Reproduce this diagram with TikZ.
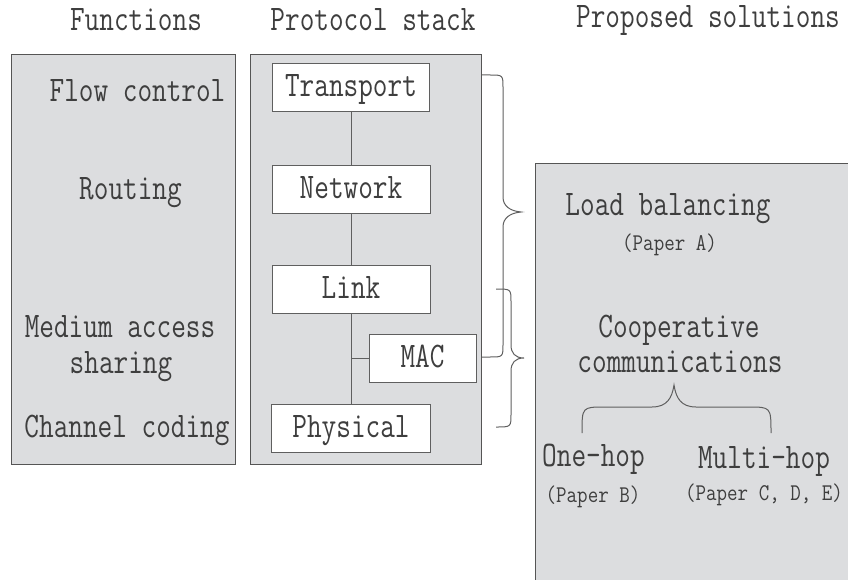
\documentclass[tikz,border=0pt]{standalone}
\usepackage{graphicx}
\definecolor{panelfill}{RGB}{220,221,223}
\definecolor{edgegray}{RGB}{85,85,85}
\definecolor{linegray}{RGB}{95,95,95}
\definecolor{txtgray}{RGB}{62,62,62}
% condensed monospaced lettering
\newcommand\bigtxt[1]{\scalebox{0.79}[1]{\fontsize{36}{42}\selectfont\ttfamily #1}}
\newcommand\smalltxt[1]{\scalebox{0.85}[1]{\fontsize{24}{28}\selectfont\ttfamily #1}}
\begin{document}
\begin{tikzpicture}[x=1pt,y=-1pt,
  panel/.style={draw=edgegray, line width=1.2pt, fill=panelfill, anchor=north west, inner sep=0},
  layer/.style={draw=linegray, line width=1pt, fill=white, inner sep=0,
                text height=20pt, text depth=2pt, text=txtgray, minimum height=48pt},
  lbl/.style={anchor=base, inner sep=0, text=txtgray},
  link/.style={draw=linegray, line width=0.9pt},
  bracestroke/.style={draw=linegray, line width=1pt}]
\useasboundingbox (0,0) rectangle (848,580);

% column titles
\node[lbl] (tfunc)  at (136,31) {\bigtxt{Functions}};
\node[lbl] (tstack) at (373,31) {\bigtxt{Protocol stack}};
\node[lbl] (tsol)   at (708,28) {\bigtxt{Proposed solutions}};

% panels
\node[panel, minimum width=224pt, minimum height=410pt] (funcpanel)  at (11,54) {};
\node[panel, minimum width=231pt, minimum height=410pt] (stackpanel) at (250,54) {};
\begin{scope}
  \clip (0,0) rectangle (848,580);
  \node[panel, minimum width=340pt, minimum height=440pt] (solpanel) at (535,163) {};
\end{scope}

% functions
\node[lbl] (fflow)  at (137.5,102) {\bigtxt{Flow control}};
\node[lbl] (frout)  at (130.5,200) {\bigtxt{Routing}};
\node[lbl] (fmed)   at (120,337)   {\bigtxt{Medium access}};
\node[lbl] (fshare) at (121,373)   {\bigtxt{sharing}};
\node[lbl] (fchan)  at (127,437)   {\bigtxt{Channel coding}};

% protocol layers
\node[layer, minimum width=157pt] (transport) at (351,88)    {\bigtxt{Transport}};
\node[layer, minimum width=158pt] (network)   at (351,189.5) {\bigtxt{Network}};
\node[layer, minimum width=158pt] (linklayer) at (351,289)   {\bigtxt{Link}};
\node[layer, minimum width=107pt] (mac)       at (422.5,358) {\bigtxt{MAC}};
\node[layer, minimum width=159pt] (physical)  at (351,428)   {\bigtxt{Physical}};

\draw[link] (transport.south) -- (network.north);
\draw[link] (network.south) -- (linklayer.north);
\draw[link] (linklayer.south) -- (physical.north);
\draw[link] (mac.west) -- (mac.west -| linklayer.south);

% solutions
\node[lbl] (sload)  at (668,215)   {\bigtxt{Load balancing}};
\node[lbl] (spa)    at (669.5,250) {\smalltxt{(Paper A)}};
\node[lbl] (scoop)  at (679,337)   {\bigtxt{Cooperative}};
\node[lbl] (scomm)  at (680,372)   {\bigtxt{communications}};
\node[lbl] (sone)   at (593.5,466) {\bigtxt{One-hop}};
\node[lbl] (spb)    at (593,502)   {\smalltxt{(Paper B)}};
\node[lbl] (smulti) at (764,468)   {\bigtxt{Multi-hop}};
\node[lbl] (spcde)  at (764,500)   {\smalltxt{(Paper C, D, E)}};

% brace from the transport layer down to the MAC sublayer
\coordinate (b1top) at (482,75);
\coordinate (b1bot) at (482,357);
\draw[bracestroke] (b1top) -- (490,75) .. controls (503,75) .. (503,88)
  -- (503,197) .. controls (503,206) and (510,211) .. (521,212)
  .. controls (510,213) and (503,218) .. (503,227)
  -- (503,344) .. controls (503,357) .. (490,357) -- (b1bot);

% brace from the link layer down to the physical layer
\coordinate (b2top) at (496,289);
\coordinate (b2bot) at (496,427);
\draw[bracestroke] (b2top) .. controls (511,289) .. (511,302)
  -- (511,345) .. controls (511,353) and (515,358) .. (524,358)
  .. controls (515,358) and (511,363) .. (511,371)
  -- (511,414) .. controls (511,427) .. (b2bot);

% brace splitting cooperative communications
\coordinate (b3left)  at (582,433);
\coordinate (b3right) at (771,433);
\draw[bracestroke] (b3left) .. controls (582,407) .. (605,407) -- (652,407)
  .. controls (667,407) and (672,398) .. (674,385)
  .. controls (676,398) and (681,407) .. (696,407) -- (748,407)
  .. controls (771,407) .. (b3right);
\end{tikzpicture}
\end{document}
